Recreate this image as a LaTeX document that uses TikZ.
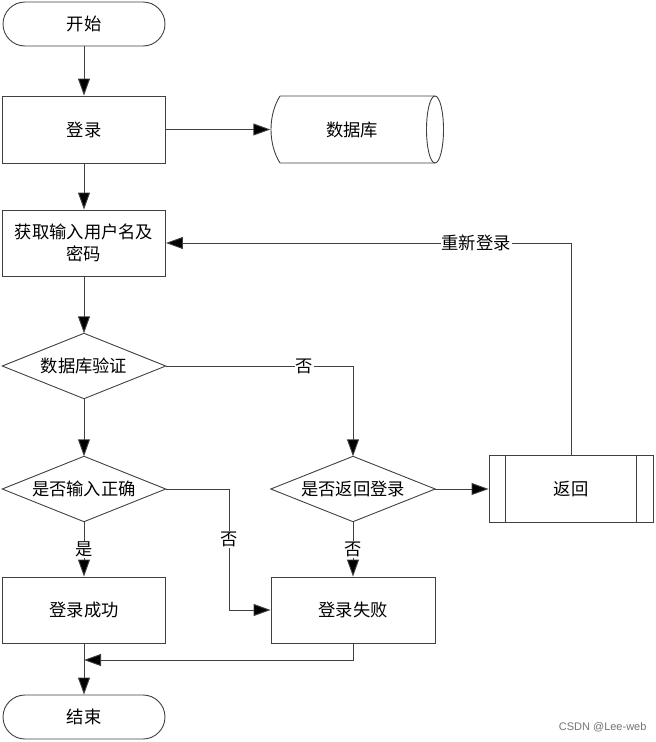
\documentclass[tikz,border=0pt]{standalone}
\usepackage{fontspec}
\setmainfont{Liberation Sans}
\newfontfamily\cjk{Noto Sans CJK SC}
\usetikzlibrary{arrows.meta}
\begin{document}
\begin{tikzpicture}[x=1pt,y=-1pt,
  font=\cjk\fontsize{17.3}{22}\selectfont,
  line/.style={draw=black!75,line width=0.9pt},
  arr/.style={line, -{Triangle[length=17pt,width=12pt,fill=black]}},
  boxnode/.style={draw=black!75,line width=0.9pt,minimum width=163pt,minimum height=66pt,inner sep=0pt,align=center},
  termnode/.style={draw=black!75,line width=0.9pt,rounded corners=22pt,minimum width=162pt,minimum height=44pt,inner sep=0pt},
  hidnode/.style={minimum width=163pt,minimum height=65pt,inner sep=0pt,align=center},
  lbl/.style={fill=white,inner sep=1pt}]
\useasboundingbox (0,0) rectangle (656,742);
% terminals and boxes
\node[termnode] (start) at (84,24) {开始};
\node[boxnode, minimum height=67pt] (login) at (84,129.5) {登录};
\node[hidnode, minimum width=171pt, minimum height=67pt] (db) at (356,129.5) {};
\node at (352,130) {数据库};
\node[boxnode] (input) at (84,243) {获取输入用户名及\\密码};
\node[hidnode] (verify) at (84,366) {数据库验证};
\node[hidnode] (correct) at (84,489) {是否输入正确};
\node[hidnode, minimum width=164pt] (back) at (353,489) {是否返回登录};
\node[boxnode, minimum width=164pt, minimum height=67pt] (ret) at (571,489) {返回};
\node[boxnode] (succ) at (84,610) {登录成功};
\node[boxnode, minimum width=164pt] (fail) at (353,610) {登录失败};
\node[termnode] (end) at (84,717) {结束};
% database cylinder
\draw[line] (280,96) -- (435,96) (280,163) -- (435,163)
  (280,96) .. controls (268,115) and (268,144) .. (280,163);
\draw[line] (435,129.5) ellipse [x radius=8.5pt, y radius=33.5pt];
% diamonds
\foreach \d in {verify,correct,back}
  \draw[line] (\d.north) -- (\d.east) -- (\d.south) -- (\d.west) -- cycle;
% predefined process inner lines
\draw[line] ([xshift=17pt]ret.north west) -- ([xshift=17pt]ret.south west)
  ([xshift=-17pt]ret.north east) -- ([xshift=-17pt]ret.south east);
% connectors
\draw[arr] (start) -- (login);
\draw[arr] (login.east) -- (db.west);
\draw[arr] (login) -- (input);
\draw[arr] (input) -- (verify.north);
\draw[arr] (verify.south) -- (correct.north);
\draw[arr] (verify.east) -| node[lbl, pos=0.37] {否} (back.north);
\draw[arr] (correct.south) -- node[lbl, pos=0.5] {是} (succ);
\draw[arr] (correct.east) -- (229,489) |- node[lbl, pos=0.21] {否} (fail.west);
\draw[arr] (back.east) -- (ret.west);
\draw[arr] (back.south) -- node[lbl, pos=0.5] {否} (fail.north);
\draw[arr] (ret.north) |- node[lbl, pos=0.617] {重新登录} (input.east);
\coordinate (join) at (84,660);
\draw[arr] (fail.south) |- (join);
\draw[arr] (succ.south) -- (end.north);
% watermark
\node[font=\fontsize{11}{13}\selectfont, text=black!55, anchor=east] (wm) at (650,727) {CSDN @Lee-web};
\end{tikzpicture}
\end{document}
